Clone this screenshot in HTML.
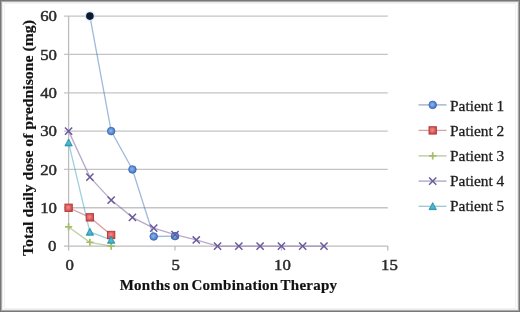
<!DOCTYPE html>
<html><head><meta charset="utf-8"><style>
html,body{margin:0;padding:0;background:#fff;}
#c{position:relative;width:520px;height:312px;overflow:hidden;background:#fff;font-family:"Liberation Serif",serif;color:#222;}
.yl,.xl{-webkit-text-stroke:0.45px currentColor;will-change:transform;}
.lg{-webkit-text-stroke:0.3px currentColor;will-change:transform;}
#xt,#yt span{-webkit-text-stroke:0.2px currentColor;will-change:transform;}
#b{position:absolute;left:0;top:0;width:520px;height:312px;box-sizing:border-box;border:1px solid #777;box-shadow:inset 0 0 0 1px #ababab,inset 0 0 0 2px #ececec;}
svg{position:absolute;left:0;top:0;}
#ib{position:absolute;left:4px;top:3px;right:4px;bottom:3px;border:1px solid #f3f3f3;}
.yl{position:absolute;left:20px;width:36.8px;text-align:right;font-size:15px;line-height:18px;color:#2a2a2a;}
.yl span,.xl span{display:inline-block;transform:scaleX(1.12);}
.yl span{transform-origin:100% 50%;}
.xl{position:absolute;top:255.8px;width:40px;text-align:center;font-size:15px;line-height:18px;color:#2a2a2a;}
.lg{position:absolute;left:449.6px;font-size:15.4px;line-height:19px;color:#1e1e1e;white-space:nowrap;}
#xt{position:absolute;left:0;width:457px;top:276px;text-align:center;letter-spacing:0.25px;word-spacing:-1.6px;font-weight:bold;font-size:15px;line-height:18px;color:#111;white-space:nowrap;}
#yt{position:absolute;left:27.5px;top:138.3px;width:0;height:0;}
#yt span{position:absolute;left:0;top:0;transform:translate(-50%,-50%) rotate(-90deg) scaleX(1.05);font-weight:bold;font-size:15px;line-height:18px;color:#111;white-space:nowrap;}
</style></head><body>
<div id="c">
<svg width="520" height="312" viewBox="0 0 520 312">
<defs>
<radialGradient id="gb" cx="0.45" cy="0.45" r="0.6"><stop offset="0" stop-color="#8fb7f0"/><stop offset="0.6" stop-color="#5a8ad6"/><stop offset="1" stop-color="#3a68b4"/></radialGradient>
<radialGradient id="gr" cx="0.45" cy="0.45" r="0.6"><stop offset="0" stop-color="#f58a8a"/><stop offset="0.6" stop-color="#e06060"/><stop offset="1" stop-color="#c04848"/></radialGradient>
<radialGradient id="gc" cx="0.5" cy="0.6" r="0.6"><stop offset="0" stop-color="#4cc4dc"/><stop offset="1" stop-color="#2896b2"/></radialGradient>
</defs>
<line x1="64" y1="207.77" x2="387.80" y2="207.77" stroke="#c4c4c4" stroke-width="1.3"/>
<line x1="64" y1="169.44" x2="387.80" y2="169.44" stroke="#c4c4c4" stroke-width="1.3"/>
<line x1="64" y1="131.11" x2="387.80" y2="131.11" stroke="#c4c4c4" stroke-width="1.3"/>
<line x1="64" y1="92.78" x2="387.80" y2="92.78" stroke="#c4c4c4" stroke-width="1.3"/>
<line x1="64" y1="54.45" x2="387.80" y2="54.45" stroke="#c4c4c4" stroke-width="1.3"/>
<line x1="64" y1="16.12" x2="387.80" y2="16.12" stroke="#c4c4c4" stroke-width="1.3"/>
<line x1="64" y1="246.10" x2="387.80" y2="246.10" stroke="#bdbdbd" stroke-width="1.3"/>
<line x1="68.60" y1="16.12" x2="68.60" y2="250.60" stroke="#bdbdbd" stroke-width="1.3"/>
<line x1="175.00" y1="246.10" x2="175.00" y2="250.60" stroke="#bdbdbd" stroke-width="1.3"/>
<line x1="281.40" y1="246.10" x2="281.40" y2="250.60" stroke="#bdbdbd" stroke-width="1.3"/>
<line x1="387.80" y1="246.10" x2="387.80" y2="250.60" stroke="#bdbdbd" stroke-width="1.3"/>
<polyline points="89.88,16.12 111.16,131.11 132.44,169.44 153.72,236.52 175.00,236.13" fill="none" stroke="#4f81bd" stroke-opacity="0.55" stroke-width="1.3"/>
<polyline points="68.60,207.77 89.88,217.35 111.16,234.98" fill="none" stroke="#c0504d" stroke-opacity="0.55" stroke-width="1.3"/>
<polyline points="68.60,226.94 89.88,242.27 111.16,246.10" fill="none" stroke="#8aa860" stroke-opacity="0.55" stroke-width="1.3"/>
<polyline points="68.60,131.11 89.88,177.11 111.16,200.10 132.44,217.35 153.72,228.08 175.00,234.60 196.28,239.97 217.56,246.10 238.84,246.10 260.12,246.10 281.40,246.10 302.68,246.10 323.96,246.10" fill="none" stroke="#8064a2" stroke-opacity="0.55" stroke-width="1.3"/>
<polyline points="68.60,142.61 89.88,231.92 111.16,239.97" fill="none" stroke="#4bacc6" stroke-opacity="0.55" stroke-width="1.3"/>
<circle cx="89.88" cy="16.12" r="5.30" fill="#cfe0f5" opacity="0.6"/><circle cx="89.88" cy="16.12" r="3.80" fill="#0b1a30"/>
<circle cx="111.16" cy="131.11" r="3.80" fill="url(#gb)" stroke="#3b67b0" stroke-width="0.8"/>
<circle cx="132.44" cy="169.44" r="3.80" fill="url(#gb)" stroke="#3b67b0" stroke-width="0.8"/>
<circle cx="153.72" cy="236.52" r="3.80" fill="url(#gb)" stroke="#3b67b0" stroke-width="0.8"/>
<circle cx="175.00" cy="236.13" r="3.80" fill="url(#gb)" stroke="#3b67b0" stroke-width="0.8"/>
<rect x="64.90" y="204.07" width="7.4" height="7.4" fill="url(#gr)" stroke="#b03a3a" stroke-width="0.9"/>
<rect x="86.18" y="213.65" width="7.4" height="7.4" fill="url(#gr)" stroke="#b03a3a" stroke-width="0.9"/>
<rect x="107.46" y="231.28" width="7.4" height="7.4" fill="url(#gr)" stroke="#b03a3a" stroke-width="0.9"/>
<path d="M65.00 226.94H72.20M68.60 223.34V230.53" stroke="#a3bd68" stroke-width="1.7"/>
<path d="M86.28 242.27H93.48M89.88 238.67V245.87" stroke="#a3bd68" stroke-width="1.7"/>
<path d="M107.56 246.10H114.76M111.16 242.50V249.70" stroke="#a3bd68" stroke-width="1.7"/>
<path d="M65.00 127.51L72.20 134.71M72.20 127.51L65.00 134.71" stroke="#6b5a9a" stroke-width="1.5"/>
<path d="M86.28 173.51L93.48 180.71M93.48 173.51L86.28 180.71" stroke="#6b5a9a" stroke-width="1.5"/>
<path d="M107.56 196.50L114.76 203.70M114.76 196.50L107.56 203.70" stroke="#6b5a9a" stroke-width="1.5"/>
<path d="M128.84 213.75L136.04 220.95M136.04 213.75L128.84 220.95" stroke="#6b5a9a" stroke-width="1.5"/>
<path d="M150.12 224.48L157.32 231.68M157.32 224.48L150.12 231.68" stroke="#6b5a9a" stroke-width="1.5"/>
<path d="M171.40 231.00L178.60 238.20M178.60 231.00L171.40 238.20" stroke="#6b5a9a" stroke-width="1.5"/>
<path d="M192.68 236.37L199.88 243.57M199.88 236.37L192.68 243.57" stroke="#6b5a9a" stroke-width="1.5"/>
<path d="M213.96 242.50L221.16 249.70M221.16 242.50L213.96 249.70" stroke="#6b5a9a" stroke-width="1.5"/>
<path d="M235.24 242.50L242.44 249.70M242.44 242.50L235.24 249.70" stroke="#6b5a9a" stroke-width="1.5"/>
<path d="M256.52 242.50L263.72 249.70M263.72 242.50L256.52 249.70" stroke="#6b5a9a" stroke-width="1.5"/>
<path d="M277.80 242.50L285.00 249.70M285.00 242.50L277.80 249.70" stroke="#6b5a9a" stroke-width="1.5"/>
<path d="M299.08 242.50L306.28 249.70M306.28 242.50L299.08 249.70" stroke="#6b5a9a" stroke-width="1.5"/>
<path d="M320.36 242.50L327.56 249.70M327.56 242.50L320.36 249.70" stroke="#6b5a9a" stroke-width="1.5"/>
<path d="M68.60 138.91L72.30 145.94L64.90 145.94Z" fill="url(#gc)" stroke="#2b8ea6" stroke-width="0.8"/>
<path d="M89.88 228.22L93.58 235.25L86.18 235.25Z" fill="url(#gc)" stroke="#2b8ea6" stroke-width="0.8"/>
<path d="M111.16 236.27L114.86 243.30L107.46 243.30Z" fill="url(#gc)" stroke="#2b8ea6" stroke-width="0.8"/>
<line x1="418.5" y1="104.9" x2="446.5" y2="104.9" stroke="#9aabcc" stroke-width="1.3"/>
<circle cx="432.70" cy="104.90" r="3.80" fill="url(#gb)" stroke="#3b67b0" stroke-width="0.8"/>
<line x1="418.5" y1="130.4" x2="446.5" y2="130.4" stroke="#d4a3a3" stroke-width="1.3"/>
<rect x="429.00" y="126.70" width="7.4" height="7.4" fill="url(#gr)" stroke="#b03a3a" stroke-width="0.9"/>
<line x1="418.5" y1="155.9" x2="446.5" y2="155.9" stroke="#b9c7a0" stroke-width="1.3"/>
<path d="M429.10 155.90H436.30M432.70 152.30V159.50" stroke="#a3bd68" stroke-width="1.7"/>
<line x1="418.5" y1="181.1" x2="446.5" y2="181.1" stroke="#aaa3c2" stroke-width="1.3"/>
<path d="M429.10 177.50L436.30 184.70M436.30 177.50L429.10 184.70" stroke="#6b5a9a" stroke-width="1.5"/>
<line x1="418.5" y1="206.3" x2="446.5" y2="206.3" stroke="#9cc8d3" stroke-width="1.3"/>
<path d="M432.70 202.60L436.40 209.63L429.00 209.63Z" fill="url(#gc)" stroke="#2b8ea6" stroke-width="0.8"/>
</svg>
<div class="yl" style="top:237.4px"><span>0</span></div><div class="yl" style="top:199.1px"><span>10</span></div><div class="yl" style="top:160.7px"><span>20</span></div><div class="yl" style="top:122.4px"><span>30</span></div><div class="yl" style="top:84.1px"><span>40</span></div><div class="yl" style="top:45.7px"><span>50</span></div><div class="yl" style="top:7.4px"><span>60</span></div>
<div class="xl" style="left:49.5px"><span>0</span></div><div class="xl" style="left:155.9px"><span>5</span></div><div class="xl" style="left:262.3px"><span>10</span></div><div class="xl" style="left:368.7px"><span>15</span></div>
<div class="lg" style="top:95.6px">Patient 1</div><div class="lg" style="top:120.8px">Patient 2</div><div class="lg" style="top:146.0px">Patient 3</div><div class="lg" style="top:171.1px">Patient 4</div><div class="lg" style="top:196.3px">Patient 5</div>
<div id="xt">Months on Combination Therapy</div>
<div id="yt"><span>Total daily dose of prednisone (mg)</span></div>
<div id="ib"></div><div id="b"></div>
</div>
</body></html>
